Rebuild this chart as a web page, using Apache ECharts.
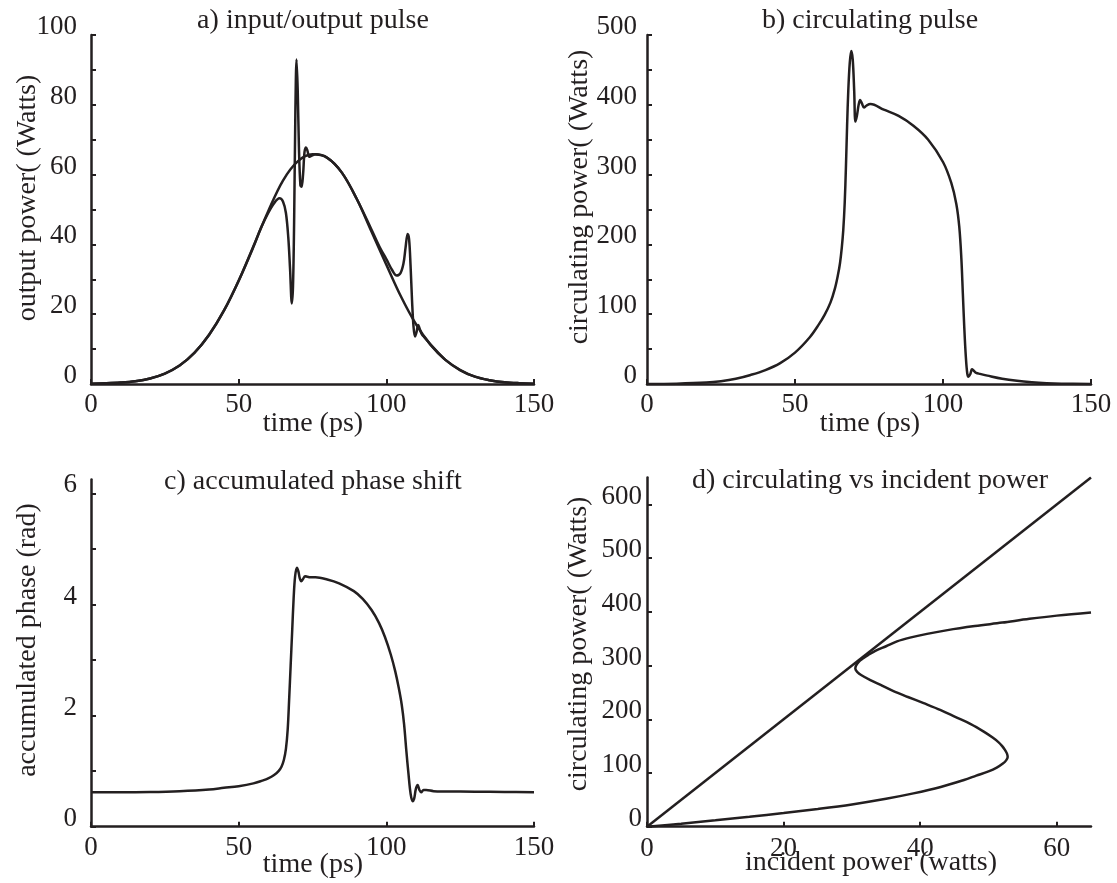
<!DOCTYPE html>
<html>
<head>
<meta charset="utf-8">
<script src="https://cdn.jsdelivr.net/npm/echarts@6/dist/echarts.min.js"></script>
<style>html,body{margin:0;padding:0;background:#fff;}#c{width:1117px;height:883px;}</style>
</head>
<body>
<div id="c"></div>
<script>
// ---- panel a: input / output pulse ----
const aInTime = [0,5,10,15,20,25,30,35,40,45,50,55,60,65,70,75,80,85,90,95,100,105,110,115,120,125,130,135,140,145,150];
const aInput  = [0.1,0.2,0.4,0.8,1.6,3.0,5.3,8.9,14.1,21.0,29.6,39.5,49.5,58.3,63.8,65.8,64.8,60.5,53.0,43.6,34.2,25.0,17.2,11.2,6.9,4.0,2.1,1.1,0.5,0.23,0.1];
const aOutTime = [0,5,10,15,20,25,30,35,40,45,50,55,57.5,60,62,63.8,65,66,66.8,67.4,68.0,68.4,68.8,69.2,69.6,70.0,70.4,70.9,71.3,71.8,72.3,72.8,73.3,73.9,74.6,76,80,85,90,95,98,100,102,103.5,104.8,105.8,106.5,107.2,107.7,108.2,108.7,109.2,109.7,110.2,110.8,111.3,112,113,115,120,125,130,135,140,145,150];
const aOutput  = [0.1,0.2,0.4,0.8,1.6,3.0,5.3,8.9,14.1,21.0,29.6,39.3,44.6,49,51.8,53.2,52.3,49,42,33,23.1,28,48,78,93,84,68,57,56.5,60,66.5,67.8,66.8,65.1,65.4,65.8,64.8,60.5,53.0,44.2,38.8,35.8,32.6,31.1,31.8,34.5,39,43,41.5,34,24,16.5,13.6,14.8,16.9,15.8,14.3,13.3,11.3,6.9,4.0,2.1,1.1,0.5,0.23,0.1];
// ---- panel b: circulating pulse ----
const bTime  = [0,10,20,25,30,35,40,45,50,55,58,60,62,63.5,64.5,65.2,65.8,66.3,66.8,67.2,67.6,68.0,68.5,69.0,69.5,70.0,70.4,70.9,71.5,72.0,72.6,73.3,74.2,75.5,80,85,90,95,100,102.8,104.5,105.5,106.2,106.7,107.2,107.7,108.2,108.6,109.2,109.8,110.4,111.2,112.5,115,120,125,130,135,140,150];
const bPower = [0,0.5,2,4,7.5,13,20,30,45,67,85,99,117,137,156,173,195,220,260,310,370,420,460,477,465,420,376,384,400,407,402,396,399,401,393,384,370,350,318,288,258,225,180,130,80,40,15,10.5,14,21,19,16,14.5,12,7.5,4.5,2.5,1.2,0.5,0];
// ---- panel c: accumulated phase shift ----
const cTime  = [0,10,20,30,40,45,50,55,58,60,62,63.5,64.5,65.3,66,66.6,67.1,67.6,68.1,68.6,69.1,69.7,70.2,70.7,71.2,71.8,72.5,73.3,74.2,76,80,84,89,92,95,97.5,99.5,101.5,103,104.2,105.2,106,106.8,107.5,108.2,108.9,109.4,110,110.6,111.2,111.8,112.6,113.5,116,120,130,140,150];
const cPhase = [0.62,0.62,0.625,0.64,0.67,0.7,0.73,0.78,0.83,0.87,0.93,1.0,1.08,1.2,1.4,1.75,2.3,2.9,3.5,4.1,4.5,4.66,4.6,4.47,4.42,4.46,4.51,4.5,4.49,4.49,4.45,4.38,4.24,4.1,3.9,3.67,3.42,3.1,2.8,2.5,2.2,1.85,1.35,0.95,0.6,0.46,0.5,0.68,0.75,0.66,0.62,0.66,0.66,0.64,0.635,0.63,0.625,0.62];
// ---- panel d: circulating vs incident power ----
const dLineI = [0,65];
const dLineP = [0,650];
const dCurveI = [0,5,10,15,20,25,30,35,39,43,46.4,48.2,50,51.2,52.1,52.6,52.8,52.7,52.4,52.0,51.4,50.6,49.3,47.4,45.2,43,40.5,38.1,36,34.2,32.7,31.4,30.8,30.5,30.6,31.0,31.6,32.4,33.5,35,36.6,38.5,41,44,48,52,56,60,65];
const dCurveP = [0,5.6,11.8,18.5,25.5,33,41.5,52,62,74,87,95,103,110,117.5,124,130,136,143,150,158,166,177,191,204,217,230,242,253,264,273,282,288,294,300,307,313,320,328,336,345,352,359,366,373.5,380,387,393,399];
// ---- tick values ----
const timeTicks = [0,50,100,150];
const aYTicks = [0,10,20,30,40,50,60,70,80,90,100];
const aYLabels = [0,20,40,60,80,100];
const bYTicks = [0,50,100,150,200,250,300,350,400,450,500];
const bYLabels = [0,100,200,300,400,500];
const cYTicks = [0,1,2,3,4,5,6];
const cYLabels = [0,2,4,6];
const dXTicks = [0,20,40,60];
const dYTicks = [0,100,200,300,400,500,600];

const zip = (xs, ys) => xs.map((x, i) => [x, ys[i]]);
const INK = '#231f20';
const FONT = 'Liberation Serif';
const FS = 27;
const FS2 = 28;

function xAx(idx, max, ticks, margin) {
  return {
    type: 'value', gridIndex: idx, min: 0, max: max,
    axisLine: {show: true, onZero: false, lineStyle: {color: INK, width: 2.5}},
    axisTick: {show: true, inside: true, length: 5, customValues: ticks, lineStyle: {color: INK, width: 2}},
    axisLabel: {show: true, customValues: ticks, margin: margin, fontFamily: FONT, fontSize: FS, color: INK},
    splitLine: {show: false}
  };
}
function yAx(idx, max, ticks, labels, margin) {
  return {
    type: 'value', gridIndex: idx, min: 0, max: max,
    axisLine: {show: true, onZero: false, lineStyle: {color: INK, width: 2.5}},
    axisTick: {show: true, inside: true, length: 5, customValues: ticks, lineStyle: {color: INK, width: 2}},
    axisLabel: {show: true, customValues: labels, margin: margin, fontFamily: FONT, fontSize: FS, color: INK,
                verticalAlign: 'bottom', lineHeight: 16},
    splitLine: {show: false}
  };
}
function line(idx, data) {
  return {
    type: 'line', xAxisIndex: idx, yAxisIndex: idx, data: data,
    showSymbol: false, smooth: 0.35, lineStyle: {color: INK, width: 2.5}, silent: true
  };
}
function txt(x, y, text, rot) {
  return {
    type: 'text', x: x, y: y, rotation: rot || 0, silent: true,
    style: {text: text, x: 0, y: 0, textAlign: 'center', textVerticalAlign: 'middle',
            font: FS2 + 'px "' + FONT + '"', fill: INK}
  };
}

const chart = echarts.init(document.getElementById('c'), null, {renderer: 'canvas'});
chart.setOption({
  animation: false,
  backgroundColor: '#fff',
  grid: [
    {left: 91, top: 35, width: 443, height: 349, outerBoundsMode: 'none'},
    {left: 647, top: 35, width: 444, height: 349, outerBoundsMode: 'none'},
    {left: 91, top: 479.5, width: 443, height: 347.2, outerBoundsMode: 'none'},
    {left: 647, top: 477.6, width: 444, height: 349.1, outerBoundsMode: 'none'}
  ],
  xAxis: [
    xAx(0, 150, timeTicks, 7),
    xAx(1, 150, timeTicks, 7),
    xAx(2, 150, timeTicks, 8),
    xAx(3, 65, dXTicks, 9)
  ],
  yAxis: [
    yAx(0, 100, aYTicks, aYLabels, 14),
    yAx(1, 500, bYTicks, bYLabels, 10),
    yAx(2, 6.25, cYTicks, cYLabels, 14),
    yAx(3, 650, dYTicks, dYTicks, 5)
  ],
  series: [
    line(0, zip(aInTime, aInput)),
    line(0, zip(aOutTime, aOutput)),
    line(1, zip(bTime, bPower)),
    line(2, zip(cTime, cPhase)),
    line(3, zip(dLineI, dLineP)),
    line(3, zip(dCurveI, dCurveP))
  ],
  graphic: {elements: [
    txt(313, 21, 'a) input/output pulse'),
    txt(870, 21, 'b) circulating pulse'),
    txt(313, 482, 'c) accumulated phase shift'),
    txt(870, 481, 'd) circulating vs incident power'),
    txt(313, 424, 'time (ps)'),
    txt(870, 424, 'time (ps)'),
    txt(313, 865, 'time (ps)'),
    txt(871, 863, 'incident power (watts)'),
    txt(28, 198, 'output power( (Watts)', Math.PI / 2),
    txt(580, 197, 'circulating power( (Watts)', Math.PI / 2),
    txt(28, 640, 'accumulated phase (rad)', Math.PI / 2),
    txt(579, 644, 'circulating power( (Watts)', Math.PI / 2)
  ]}
});
</script>
</body>
</html>
